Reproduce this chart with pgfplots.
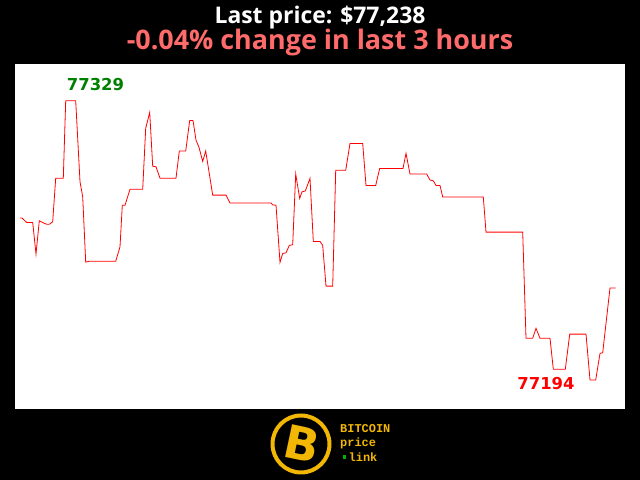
\documentclass[border=0pt]{standalone}
\usepackage{pgfplots}
\pgfplotsset{compat=1.18}
\usepackage{fontspec}
\setmainfont{Open Sans}
\newfontfamily\dejavu{DejaVu Sans}
\newfontfamily\mono{Liberation Mono}
\definecolor{salmon}{HTML}{FF6B6B}
\definecolor{gold}{HTML}{F2B705}
\definecolor{dgreen}{HTML}{008000}
\begin{document}
\begin{tikzpicture}[x=1bp,y=1bp]
\fill[black] (0,0) rectangle (640,480);
\useasboundingbox (0,0) rectangle (640,480);
% titles
\node[white,font=\fontsize{23}{26}\selectfont\bfseries] at (320,462.5) {Last price: \$77,238};
\node[salmon,font=\fontsize{27}{30}\selectfont\bfseries] at (320,437.5) {-0.04\% change in last 3 hours};
\begin{axis}[
    at={(15bp,71bp)}, anchor=south west,
    scale only axis, width=610bp, height=345bp,
    xmin=15, xmax=625, ymin=77180.0, ymax=77346.8,
    axis background/.style={fill=white},
    axis line style={draw=none},
    ticks=none,
    clip=false,
  ]
\addplot[red, line width=0.8bp] coordinates {
(20,77272.3) (22,77272.3) (26.7,77270.2) (32.7,77270.2) (36,77254.9)
(39.3,77271.0) (43.3,77270.0) (46.7,77269.3) (49.3,77269.3) (52.7,77270.5)
(55.7,77291.6) (63.3,77291.6) (65.7,77329) (75.7,77329) (80,77289.9)
(82.7,77282.6) (85.7,77251.0) (89,77251.4) (115.7,77251.4) (120,77258.4)
(122.3,77278.5) (125,77278.5) (130,77286.2) (142.7,77286.2) (145.7,77315.7)
(149.7,77323.4) (152.7,77297.4) (156,77297.1) (160,77291.6) (176,77291.6)
(179.3,77304.7) (185.7,77304.7) (189.7,77319.5) (193,77319.5) (196,77310.0)
(199,77306.5) (202.7,77299.7) (205.7,77304.7) (212.7,77283.4) (226,77283.4)
(230,77279.6) (271,77279.6) (272.7,77278.7) (276,77278.5) (280,77250.9)
(282.7,77255.2) (286,77255.5) (289.3,77259.1) (292.7,77259.4) (295.7,77293.6)
(299.7,77281.8) (302,77285.0) (305.3,77285.4) (310,77291.5) (313.3,77261.0)
(320,77261.0) (322.7,77259.1) (326,77239.4) (332.7,77239.4) (335.7,77295.4)
(345.7,77295.4) (350,77308.4) (362.7,77308.4) (366,77288.1) (375.7,77288.1)
(379.7,77296.3) (403,77296.3) (406,77303.6) (410,77293.6) (426.7,77293.6)
(430,77290.7) (433.3,77290.3) (436,77288.1) (440,77288.1) (442.7,77282.5)
(483.3,77282.5) (486,77265.5) (522.7,77265.5) (526,77214.2) (532.7,77214.2)
(536,77219.0) (540,77214.2) (550,77214.2) (553.3,77199.2) (565.3,77199.2)
(569.7,77216.2) (586,77216.2) (590,77194) (595.7,77194) (600,77206.9)
(602.7,77207.2) (606,77221.4) (610,77238.5) (615.7,77238.5)
};
\node[dgreen, font=\dejavu\fontsize{16.5}{18}\selectfont\bfseries] at (axis cs:95.5,77337.1) {77329};
\node[red, font=\dejavu\fontsize{16.5}{18}\selectfont\bfseries] at (axis cs:546,77192.5) {77194};
\end{axis}
% logo
\draw[gold, line width=4bp] (301,36) circle (28.5);
\node[gold, rotate=-12, font=\dejavu\fontsize{46}{46}\selectfont\bfseries] at (302,36) {B};
\node[gold, anchor=west, inner sep=0, align=left,
      font=\mono\fontsize{12}{14.2}\selectfont\bfseries] at (340,37)
      {BITCOIN\\price\\\hspace*{8.5bp}link};
\fill[green!70!black] (342.5,21.2) rectangle ++(3.5,3.5);
\end{tikzpicture}
\end{document}
